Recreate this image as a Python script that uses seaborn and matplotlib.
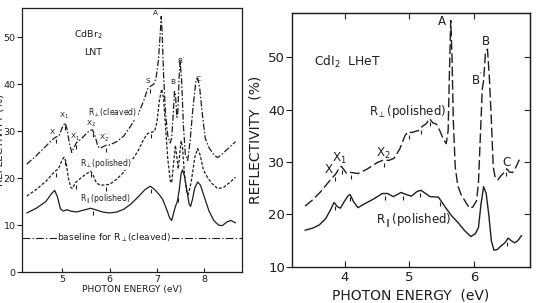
import numpy as np
import matplotlib
matplotlib.use("Agg")
import matplotlib.pyplot as plt
import seaborn as sns

# CdBr2 (LNT) reflectivity curves
cdbr_cleaved_x = [4.25, 4.45, 4.65, 4.8, 4.87, 4.93, 5.0, 5.06, 5.1, 5.15, 5.2, 5.25, 5.3, 5.38, 5.48, 5.58,
                  5.64, 5.7, 5.75, 5.8, 5.86, 5.92, 6.0, 6.15, 6.3, 6.45, 6.6, 6.72, 6.8, 6.86, 6.93, 6.98,
                  7.03, 7.07, 7.09, 7.11, 7.14, 7.18, 7.23, 7.28, 7.31, 7.34, 7.37, 7.39, 7.42, 7.44, 7.47,
                  7.49, 7.52, 7.56, 7.6, 7.65, 7.7, 7.76, 7.82, 7.86, 7.9, 7.96, 8.02, 8.1, 8.2, 8.28, 8.36,
                  8.5, 8.66]
cdbr_cleaved_y = [23.0, 24.8, 26.8, 28.3, 28.8, 29.0, 30.8, 31.8, 30.5, 27.5, 25.5, 26.6, 27.6, 28.2, 29.2, 30.2,
                  30.3, 28.8, 26.8, 26.4, 26.7, 27.0, 27.1, 27.8, 29.0, 31.2, 33.6, 36.5, 39.0, 39.6, 40.0, 41.3,
                  45.0, 51.0, 54.5, 51.0, 42.0, 34.0, 29.0, 27.5, 28.5, 33.0, 38.5, 38.0, 33.0, 34.0, 42.0,
                  45.0, 41.0, 31.0, 25.0, 23.8, 28.0, 35.0, 40.5, 41.3, 39.5, 33.5, 28.5, 26.5, 25.0, 24.4, 25.0,
                  26.3, 27.8]

cdbr_perp_x = [4.25, 4.45, 4.65, 4.8, 4.86, 4.92, 5.0, 5.04, 5.08, 5.13, 5.18, 5.22, 5.27, 5.35, 5.45, 5.55,
               5.6, 5.66, 5.72, 5.8, 5.92, 6.0, 6.15, 6.3, 6.45, 6.6, 6.72, 6.8, 6.88, 6.95, 7.0, 7.05, 7.1,
               7.14, 7.18, 7.23, 7.28, 7.31, 7.35, 7.39, 7.42, 7.45, 7.48, 7.51, 7.54, 7.58, 7.63, 7.66, 7.72,
               7.8, 7.86, 7.91, 7.98, 8.06, 8.15, 8.28, 8.4, 8.55, 8.66]
cdbr_perp_y = [16.2, 17.6, 19.3, 21.0, 21.6, 22.0, 24.0, 24.5, 23.5, 20.0, 18.0, 17.8, 19.0, 19.7, 20.5, 21.2,
               21.5, 20.5, 19.0, 18.5, 18.6, 18.7, 19.8, 21.3, 23.5, 25.8, 28.3, 29.5, 29.8, 30.0, 32.0, 36.5, 39.0,
               37.0, 31.0, 24.0, 19.5, 19.0, 23.0, 27.0, 24.5, 22.0, 25.0, 28.0, 26.5, 21.0, 17.0, 16.5, 19.0,
               24.5, 26.3, 25.0, 21.8, 20.3, 19.0, 17.8, 18.0, 19.2, 20.2]

cdbr_par_x = [4.25, 4.45, 4.65, 4.78, 4.84, 4.9, 4.96, 5.02, 5.1, 5.18, 5.3, 5.45, 5.6, 5.7, 5.85, 6.0, 6.15,
              6.3, 6.45, 6.6, 6.75, 6.86, 6.95, 7.05, 7.12, 7.2, 7.27, 7.31, 7.35, 7.39, 7.43, 7.47, 7.51, 7.54,
              7.58, 7.63, 7.68, 7.71, 7.75, 7.8, 7.86, 7.92, 8.0, 8.1, 8.2, 8.3, 8.38, 8.48, 8.56, 8.66]
cdbr_par_y = [12.6, 13.6, 15.0, 16.8, 17.4, 16.0, 13.5, 13.0, 13.3, 13.0, 12.8, 13.2, 13.6, 13.3, 12.8, 12.6, 12.8,
              13.4, 14.5, 16.0, 17.6, 18.3, 17.6, 16.5, 15.5, 13.5, 11.5, 11.0, 12.5, 14.0, 15.0, 17.5, 21.0, 21.8,
              20.5, 17.5, 14.5, 14.0, 15.5, 18.0, 19.2, 18.5, 16.0, 13.0, 11.0, 10.0, 9.9, 10.7, 11.0, 10.5]
cdbr_baseline = 7.3

# CdI2 (LHeT) reflectivity curves
cdi_perp_x = [3.38, 3.5, 3.62, 3.72, 3.8, 3.85, 3.9, 3.94, 3.98, 4.02, 4.06, 4.1, 4.2, 4.35, 4.5, 4.6, 4.68,
              4.76, 4.85, 4.93, 4.98, 5.03, 5.08, 5.14, 5.2, 5.26, 5.31, 5.36, 5.42, 5.47, 5.52, 5.57, 5.6,
              5.62, 5.64, 5.66, 5.68, 5.71, 5.75, 5.8, 5.86, 5.93, 5.98, 6.04, 6.07, 6.1, 6.13, 6.15, 6.18,
              6.21, 6.24, 6.27, 6.3, 6.33, 6.37, 6.42, 6.47, 6.51, 6.55, 6.6, 6.65, 6.71]
cdi_perp_y = [21.6, 22.8, 24.3, 25.8, 27.0, 27.6, 28.6, 29.2, 28.6, 27.9, 28.1, 28.0, 27.8, 28.7, 29.9, 30.4, 30.3,
              30.7, 32.5, 35.0, 35.8, 35.6, 35.8, 36.0, 36.8, 37.3, 38.3, 37.5, 37.2, 36.0, 34.5, 33.5, 36.0,
              47.0, 57.0, 50.0, 38.0, 29.0, 25.5, 23.8, 22.6, 21.2, 21.4, 22.6, 26.0, 35.0, 44.0, 45.5, 51.0,
              51.5, 46.0, 38.0, 29.0, 27.0, 26.6, 27.4, 28.0, 28.7, 28.1, 28.0, 29.0, 30.6]

cdi_par_x = [3.38, 3.5, 3.6, 3.7, 3.78, 3.83, 3.88, 3.93, 3.98, 4.05, 4.08, 4.13, 4.2, 4.3, 4.45, 4.58, 4.66,
             4.75, 4.87, 4.95, 5.03, 5.12, 5.18, 5.25, 5.32, 5.45, 5.55, 5.65, 5.75, 5.85, 5.95, 6.02, 6.07,
             6.11, 6.15, 6.19, 6.23, 6.27, 6.31, 6.36, 6.42, 6.48, 6.53, 6.58, 6.63, 6.68, 6.74]
cdi_par_y = [17.0, 17.4, 18.0, 19.2, 21.0, 22.3, 21.5, 21.2, 22.3, 23.6, 23.8, 22.5, 21.3, 22.0, 23.0, 24.0, 24.0,
             23.4, 24.2, 23.8, 23.5, 24.4, 24.6, 24.0, 23.4, 23.3, 21.5, 19.8, 18.5, 17.0, 15.8, 16.3, 17.5,
             22.0, 25.3, 24.0, 20.0, 15.0, 13.2, 13.3, 14.0, 14.6, 15.5, 15.0, 14.6, 15.0, 16.0]

# little tick marks under the structures
cdbr_cleaved_marks = [4.86, 5.05, 5.3, 5.65, 5.92, 6.85]
cdbr_perp_marks = [4.86, 5.05, 5.28, 5.6, 5.93, 6.88]
cdbr_par_marks = [5.65, 6.87, 7.45]
cdi_perp_marks = [3.85, 3.95, 4.09, 4.6, 5.0, 5.18, 5.32, 6.5]
cdi_par_marks = [3.84, 4.08, 4.62, 4.9, 5.17, 5.47, 6.52]

# peak labels
cdbr_peak_labels = ["X", "X$_1$", "X$_1'$", "X$_2$", "X$_2'$", "S", "A", "B", "B$'$", "C"]
cdbr_peak_x = [4.79, 5.03, 5.27, 5.6, 5.89, 6.8, 6.96, 7.33, 7.52, 7.86]
cdbr_peak_y = [29.8, 33.3, 28.7, 31.6, 28.6, 40.8, 55.3, 40.4, 44.9, 41.2]
cdi_peak_labels = ["X", "X$_1$", "X$_2$", "A", "B", "B$'$", "C"]
cdi_peak_x = [3.745, 3.92, 4.59, 5.51, 6.19, 6.04, 6.51]
cdi_peak_y = [28.5, 30.6, 31.7, 56.7, 52.9, 45.6, 30.0]

sns.set_style("ticks")
plt.rcParams['font.family'] = ['DejaVu Sans']
plt.rcParams['mathtext.default'] = 'regular'
ink = "#1e1e1e"

fig = plt.figure(figsize=(5.37, 3.03), dpi=100)
ax1 = fig.add_axes([0.041, 0.102, 0.410, 0.872])
ax2 = fig.add_axes([0.544, 0.119, 0.443, 0.838])


def draw(ax, x, y, ls, marks, lw=0.9):
    sns.lineplot(x=x, y=y, ax=ax, color=ink, linewidth=lw, linestyle=ls, estimator=None, sort=False)
    my = np.interp(marks, x, y) - 0.9
    ax.plot(marks, my, linestyle="none", marker="|", markersize=3.5, color=ink, markeredgewidth=0.8)


# ---- left: CdBr2 ----
draw(ax1, cdbr_cleaved_x, cdbr_cleaved_y, (0, (5, 1.6, 1.2, 1.6)), cdbr_cleaved_marks)
draw(ax1, cdbr_perp_x, cdbr_perp_y, (0, (2.4, 1.4)), cdbr_perp_marks)
draw(ax1, cdbr_par_x, cdbr_par_y, "-", cdbr_par_marks)
ax1.axhline(cdbr_baseline, color=ink, linewidth=0.8, linestyle=(0, (7, 2, 1.2, 2)))
ax1.text(6.1, cdbr_baseline, "baseline for R$_\\perp$(cleaved)", fontsize=6.6, ha="center", va="center",
         color=ink, bbox=dict(fc="white", ec="none", pad=0.5))

ax1.text(5.55, 50.5, "CdBr$_2$", fontsize=6.8, ha="center", va="center", color=ink)
ax1.text(5.65, 46.8, "LNT", fontsize=6.8, ha="center", va="center", color=ink)
ax1.text(6.07, 34.0, "R$_\\perp$(cleaved)", fontsize=5.6, ha="center", va="center", color=ink,
         bbox=dict(fc="white", ec="none", pad=0.3))
ax1.text(5.92, 23.2, "R$_\\perp$(polished)", fontsize=5.6, ha="center", va="center", color=ink,
         bbox=dict(fc="white", ec="none", pad=0.3))
ax1.text(5.9, 15.4, "R$_\\parallel$(polished)", fontsize=5.6, ha="center", va="center", color=ink)
for lab, px, py in zip(cdbr_peak_labels, cdbr_peak_x, cdbr_peak_y):
    ax1.text(px, py, lab, fontsize=5.3, ha="center", va="center", color=ink)

ax1.set_xlim(4.15, 8.8)
ax1.set_ylim(0, 56.3)
ax1.set_xticks([5, 6, 7, 8])
ax1.set_yticks([0, 10, 20, 30, 40, 50])
ax1.tick_params(axis="y", direction="out", length=3.5, width=0.8, labelsize=6.8, pad=1, colors=ink)
ax1.tick_params(axis="x", direction="in", length=3, width=0.8, labelsize=6.8, pad=2, colors=ink)
ax1.set_xlabel("PHOTON ENERGY (eV)", fontsize=6.6, labelpad=1, color=ink)
ax1.set_ylabel("REFLECTIVITY (%)", fontsize=7.5, color=ink)
ax1.yaxis.set_label_coords(-0.079, 0.5)
for s in ax1.spines.values():
    s.set_visible(True)
    s.set_linewidth(0.9)
    s.set_color(ink)

# ---- right: CdI2 ----
draw(ax2, cdi_perp_x, cdi_perp_y, (0, (7, 2.6)), cdi_perp_marks, lw=1.0)
draw(ax2, cdi_par_x, cdi_par_y, "-", cdi_par_marks, lw=1.0)
ax2.text(4.03, 49.0, "CdI$_2$  LHeT", fontsize=8.8, ha="center", va="center", color=ink)
ax2.text(4.97, 39.6, "R$_\\perp$(polished)", fontsize=8.5, ha="center", va="center", color=ink)
ax2.text(5.06, 19.0, "R$_\\parallel$(polished)", fontsize=8.5, ha="center", va="center", color=ink)
for lab, px, py in zip(cdi_peak_labels, cdi_peak_x, cdi_peak_y):
    ax2.text(px, py, lab, fontsize=8.6, ha="center", va="center", color=ink)

ax2.set_xlim(3.18, 6.87)
ax2.set_ylim(10, 58.4)
ax2.set_xticks([4, 5, 6])
ax2.set_yticks([10, 20, 30, 40, 50])
ax2.tick_params(axis="y", direction="out", length=4, width=0.8, labelsize=9.5, pad=1, colors=ink)
ax2.tick_params(axis="x", direction="in", length=4, width=0.8, labelsize=9.5, pad=3, colors=ink)
sec_y = ax2.secondary_yaxis("right")
sec_y.set_yticks([20, 30, 40, 50])
sec_y.tick_params(direction="in", length=4, width=0.8, labelright=False)
sec_x = ax2.secondary_xaxis("top")
sec_x.set_xticks([4, 5, 6])
sec_x.tick_params(direction="in", length=4, width=0.8, labeltop=False)
ax2.set_xlabel("PHOTON ENERGY  (eV)", fontsize=10, labelpad=3, color=ink)
ax2.set_ylabel("REFLECTIVITY  (%)", fontsize=10, color=ink)
ax2.yaxis.set_label_coords(-0.125, 0.5)
for s in ax2.spines.values():
    s.set_visible(True)
    s.set_linewidth(1.0)
    s.set_color(ink)

fig.savefig("out.png", dpi=100, facecolor="white")
